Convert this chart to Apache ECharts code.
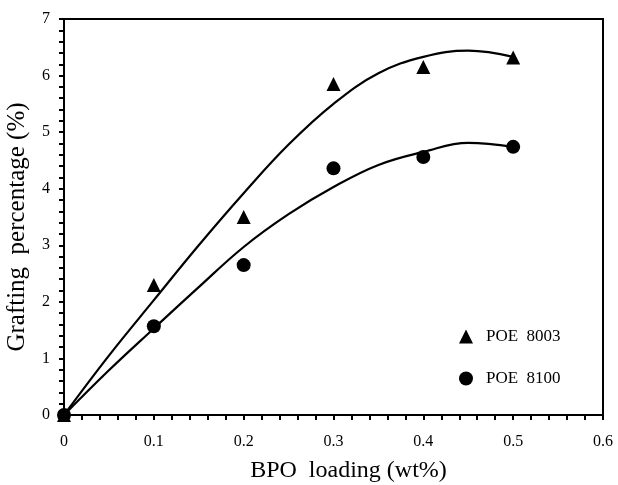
<!DOCTYPE html>
<html>
<head>
<meta charset="utf-8">
<script src="https://cdn.jsdelivr.net/npm/echarts@6/dist/echarts.min.js"></script>
<style>
  html, body { margin: 0; padding: 0; background: #fff; }
  #main { width: 618px; height: 485px; }
</style>
</head>
<body>
<div id="main"></div>
<script>
// measured points
var bpo = [0, 0.1, 0.2, 0.3, 0.4, 0.5];
var poe8003 = [0, 2.3, 3.5, 5.85, 6.15, 6.32];
var poe8100 = [0, 1.57, 2.65, 4.36, 4.56, 4.74];

// fitted curves
var fitX = [0, 0.05, 0.1, 0.15, 0.2, 0.25, 0.3, 0.35, 0.4, 0.45, 0.5];
var fit8003 = [0, 1.05, 2.03, 3.0, 3.92, 4.78, 5.5, 6.04, 6.33, 6.44, 6.33];
var fit8100 = [0, 0.79, 1.53, 2.26, 2.97, 3.55, 4.03, 4.42, 4.65, 4.81, 4.74];

var xTicks = [0, 0.1, 0.2, 0.3, 0.4, 0.5, 0.6];
var yTicks = [0, 1, 2, 3, 4, 5, 6, 7];

function pairs(xs, ys) {
	var out = [];
	for (var i = 0; i < xs.length; i++) out.push([xs[i], ys[i]]);
	return out;
}

var font = 'Liberation Serif';
var myChart = echarts.init(document.getElementById('main'));

var option = {
	animation: false,
	backgroundColor: '#fff',
	textStyle: { fontFamily: font, color: '#000' },
	grid: {
		left: 64, right: 15, top: 19, bottom: 70,
		outerBoundsMode: 'none',
		containLabel: false,
		show: true, borderColor: '#000', borderWidth: 2
	},
	legend: {
		data: ['POE  8003', 'POE  8100'],
		orient: 'vertical',
		left: 454, top: 323,
		itemWidth: 14, itemHeight: 14,
		itemGap: 25,
		textStyle: { fontFamily: font, fontSize: 17, color: '#000', padding: [0, 0, 0, 8] }
	},
	xAxis: {
		type: 'value',
		min: xTicks[0], max: xTicks[xTicks.length - 1], interval: 0.1,
		name: 'BPO  loading (wt%)',
		nameLocation: 'middle', nameGap: 44,
		nameTextStyle: { fontFamily: font, fontSize: 24, color: '#000', padding: [0, 0, 0, 30] },
		axisLine: { lineStyle: { color: '#000', width: 2 } },
		axisTick: { show: true, length: 5, lineStyle: { color: '#000', width: 2 } },
		minorTick: { show: true, splitNumber: 5, length: 5, lineStyle: { color: '#000', width: 2 } },
		splitLine: { show: false },
		axisLabel: {
			fontFamily: font, fontSize: 16, color: '#000', margin: 19,
			formatter: function (v) { return String(Math.round(v * 10) / 10); }
		}
	},
	yAxis: {
		type: 'value',
		min: yTicks[0], max: yTicks[yTicks.length - 1], interval: 1,
		name: 'Grafting  percentage (%)',
		nameLocation: 'middle', nameGap: 34,
		nameTextStyle: { fontFamily: font, fontSize: 25, color: '#000', padding: [0, 20, 0, 0] },
		axisLine: { lineStyle: { color: '#000', width: 2 } },
		axisTick: { show: true, length: 5, lineStyle: { color: '#000', width: 2 } },
		minorTick: { show: true, splitNumber: 5, length: 5, lineStyle: { color: '#000', width: 2 } },
		splitLine: { show: false },
		axisLabel: { fontFamily: font, fontSize: 16, color: '#000', margin: 14 }
	},
	series: [
		{
			name: 'fit 8003',
			type: 'line',
			data: pairs(fitX, fit8003),
			smooth: 0.4,
			showSymbol: false,
			lineStyle: { color: '#000', width: 2.2 },
			z: 2
		},
		{
			name: 'fit 8100',
			type: 'line',
			data: pairs(fitX, fit8100),
			smooth: 0.4,
			showSymbol: false,
			lineStyle: { color: '#000', width: 2.2 },
			z: 2
		},
		{
			name: 'POE  8003',
			type: 'scatter',
			symbol: 'triangle',
			symbolSize: 14,
			itemStyle: { color: '#000', opacity: 1 },
			data: pairs(bpo, poe8003),
			z: 3
		},
		{
			name: 'POE  8100',
			type: 'scatter',
			symbol: 'circle',
			symbolSize: 14,
			itemStyle: { color: '#000', opacity: 1 },
			data: pairs(bpo, poe8100),
			z: 3
		}
	]
};

myChart.setOption(option);
</script>
</body>
</html>
